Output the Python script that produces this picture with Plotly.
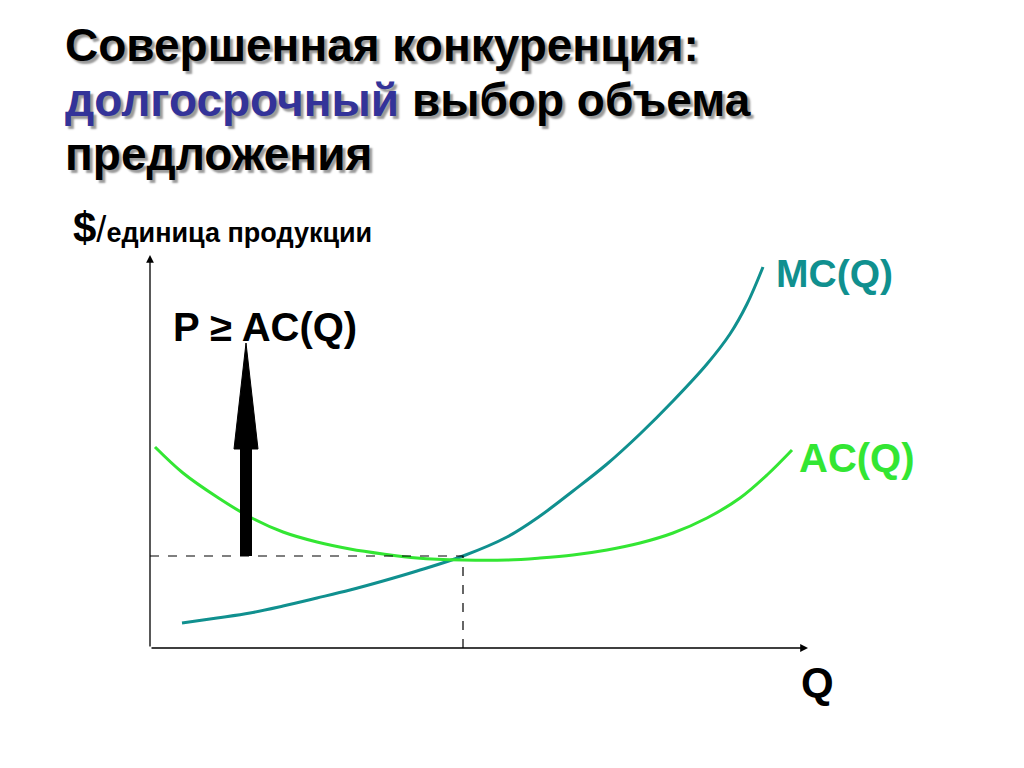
import plotly.graph_objects as go

# Chart units: Q to the right of origin, $/unit above origin
mc_q = [32, 67, 100, 133, 167, 200, 233, 267, 313, 357, 390, 423, 457, 490, 523, 557, 580, 597, 613]
mc_p = [25, 30, 35, 42, 50, 58, 67, 77, 92, 111, 132, 157, 184, 214, 247, 284, 314, 344, 381]
ac_q = [5, 33, 67, 100, 133, 167, 200, 233, 267, 313, 357, 390, 423, 457, 490, 523, 557, 590, 617, 642]
ac_p = [201, 175, 151, 131, 116, 106, 99, 94, 90, 88, 88, 90, 93, 98, 105, 115, 130, 150, 173, 198]

eq_q = 313          # equilibrium quantity
eq_p = 92           # price level (min AC)
arrow_q = 96        # position of the price arrow
arrow_base = 92
arrow_head_base = 199
arrow_tip = 305
arrow_shaft_w = 12
arrow_head_half = 12
x_axis_end = 658
y_axis_end = 393

MC_COLOR = "#10908f"
AC_COLOR = "#33e633"
FONT = "Liberation Sans, Arial, sans-serif"

fig = go.Figure()

fig.add_trace(go.Scatter(x=mc_q, y=mc_p, mode="lines",
                         line=dict(color=MC_COLOR, width=3, shape="spline", smoothing=1.0),
                         hoverinfo="skip", showlegend=False))
fig.add_trace(go.Scatter(x=ac_q, y=ac_p, mode="lines",
                         line=dict(color=AC_COLOR, width=3, shape="spline", smoothing=1.0),
                         hoverinfo="skip", showlegend=False))

fig.add_trace(go.Scatter(x=[0, eq_q, eq_q], y=[eq_p, eq_p, 0], mode="lines",
                         line=dict(color="black", width=1.2, dash="dash"), hoverinfo="skip", showlegend=False))

fig.add_trace(go.Scatter(x=[arrow_q, arrow_q], y=[arrow_base, arrow_head_base + 2], mode="lines",
                         line=dict(color="black", width=arrow_shaft_w), hoverinfo="skip", showlegend=False))
fig.add_trace(go.Scatter(x=[arrow_q - arrow_head_half, arrow_q + arrow_head_half, arrow_q, arrow_q - arrow_head_half],
                         y=[arrow_head_base, arrow_head_base, arrow_tip, arrow_head_base],
                         mode="lines", fill="toself", fillcolor="black", line=dict(color="black", width=1),
                         hoverinfo="skip", showlegend=False))

annotations = []
annotations.append(dict(x=0, y=y_axis_end, ax=0, ay=0, xref="x", yref="y", axref="x", ayref="y",
                        text="", showarrow=True, arrowhead=2, arrowsize=1.2, arrowwidth=1.3, arrowcolor="black"))
annotations.append(dict(x=x_axis_end, y=0, ax=0, ay=0, xref="x", yref="y", axref="x", ayref="y",
                        text="", showarrow=True, arrowhead=2, arrowsize=1.2, arrowwidth=1.3, arrowcolor="black"))

shadow = "3px 3px 2px #9a9a9a"
title_font = dict(family=FONT, size=46, color="black", weight="bold", shadow=shadow)
annotations.append(dict(x=-87, y=603, xref="x", yref="y", xanchor="left", yanchor="middle", showarrow=False,
                        text="Совершенная конкуренция:", font=title_font))
annotations.append(dict(x=-87, y=548, xref="x", yref="y", xanchor="left", yanchor="middle", showarrow=False,
                        text="<span style='color:#333399'>долгосрочный</span> выбор объема", font=title_font))
annotations.append(dict(x=-87, y=494, xref="x", yref="y", xanchor="left", yanchor="middle", showarrow=False,
                        text="предложения", font=title_font))

annotations.append(dict(x=-79, y=421, xref="x", yref="y", xanchor="left", yanchor="middle", showarrow=False,
                        text="<span style='font-size:42px'>$</span><span style='font-size:36px;font-weight:normal'>/</span>единица продукции",
                        font=dict(family=FONT, size=27, color="black", weight="bold")))
annotations.append(dict(x=21, y=321, xref="x", yref="y", xanchor="left", yanchor="middle", showarrow=False,
                        text="P ≥ AC(Q)", font=dict(family=FONT, size=40, color="black", weight="bold")))
annotations.append(dict(x=624, y=375, xref="x", yref="y", xanchor="left", yanchor="middle", showarrow=False,
                        text="MC(Q)", font=dict(family=FONT, size=39, color=MC_COLOR, weight="bold")))
annotations.append(dict(x=647, y=190, xref="x", yref="y", xanchor="left", yanchor="middle", showarrow=False,
                        text="AC(Q)", font=dict(family=FONT, size=40, color=AC_COLOR, weight="bold")))
annotations.append(dict(x=649, y=-34, xref="x", yref="y", xanchor="left", yanchor="middle", showarrow=False,
                        text="Q", font=dict(family=FONT, size=42, color="black", weight="bold")))

# page body has an 8px margin: shift ranges so origin lands at (150, 648) on screen
fig.update_layout(
    width=1024, height=768,
    margin=dict(l=0, r=0, t=0, b=0),
    paper_bgcolor="white", plot_bgcolor="white",
    xaxis=dict(range=[-142, 882], visible=False, fixedrange=True),
    yaxis=dict(range=[-128, 640], visible=False, fixedrange=True),
    annotations=annotations,
    showlegend=False,
)

fig.write_html("out.html")
